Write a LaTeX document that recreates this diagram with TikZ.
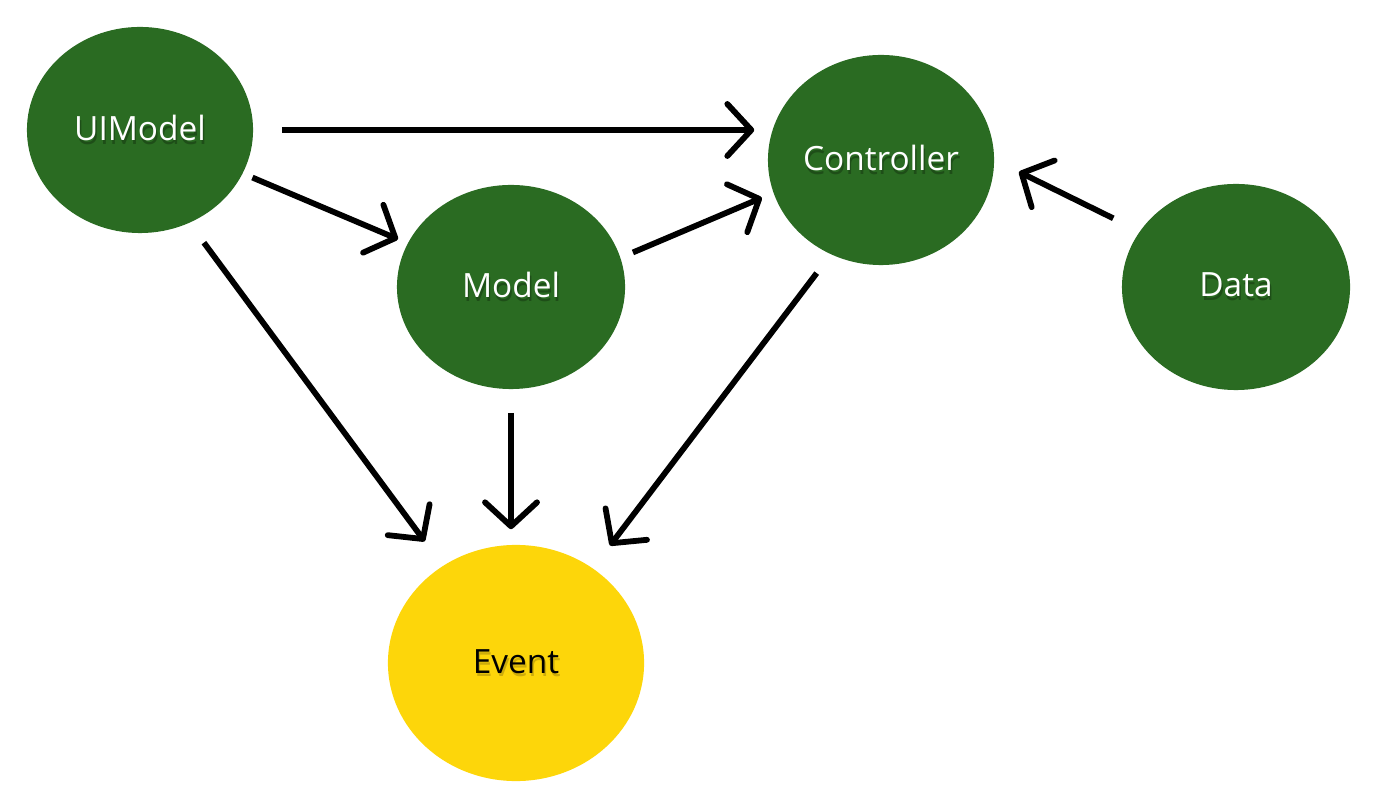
\documentclass[tikz,border=0pt]{standalone}
\usepackage{fontspec}
\setmainfont{Open Sans}
\usetikzlibrary{arrows.meta,shapes.geometric}
\definecolor{leaf}{RGB}{42,107,34}
\definecolor{leafdark}{RGB}{30,78,24}
\definecolor{sun}{RGB}{253,214,10}
\definecolor{sundark}{RGB}{205,172,10}
% text with a soft drop shadow
\newcommand{\shadowed}[2]{\makebox[0pt][l]{\kern0.4pt\raisebox{-1pt}{\color{#2}#1}}#1}
\begin{document}
\begin{tikzpicture}[
    x=0.01cm, y=-0.01cm,
    bubble/.style={ellipse, fill=leaf, text=white, inner sep=0pt, font=\fontsize{9.5}{11}\selectfont},
    flow/.style={-{Straight Barb[length=2.4mm, width=5.2mm, line cap=round, line join=round]}, line width=0.58mm, black}
]
    \useasboundingbox (0,0) rectangle (1374,804);

    % Knoten
    \node[bubble, minimum width=2.26cm, minimum height=2.06cm] (ui) at (140,130) {\shadowed{UIModel}{leafdark}};
    \node[bubble, minimum width=2.28cm, minimum height=2.04cm] (model) at (511,287) {\shadowed{Model}{leafdark}};
    \node[bubble, minimum width=2.26cm, minimum height=2.10cm] (ctrl) at (881,160) {\shadowed{Controller}{leafdark}};
    \node[bubble, minimum width=2.28cm, minimum height=2.06cm] (data) at (1236,287) {\shadowed{Data}{leafdark}};
    \node[bubble, fill=sun, text=black, minimum width=2.56cm, minimum height=2.36cm] (event) at (516,663) {\shadowed{Event}{sundark}};

    % Pfeile
    \draw[flow, shorten <=0.28cm, shorten >=0.13cm] (ui.east) -- (ui.east -| ctrl.west);
    \draw[flow, shorten <=0.1cm, shorten >=0.1cm] (ui) -- (model);
    \draw[flow, shorten <=0.13cm, shorten >=0.12cm] (model.15) -- (ctrl.197);
    \draw[flow, shorten <=0.29cm, shorten >=0.27cm] (data.150) -- (ctrl.east);
    \draw[flow, shorten <=0.24cm, shorten >=0.3cm] (ui.-62) -- (event.127);
    \draw[flow, shorten <=0.23cm, shorten >=0.15cm] (model.south) -- (model.south |- event.north);
    \draw[flow, shorten <=0.23cm, shorten >=0.28cm] (ctrl.-118) -- (event.51);
\end{tikzpicture}
\end{document}
